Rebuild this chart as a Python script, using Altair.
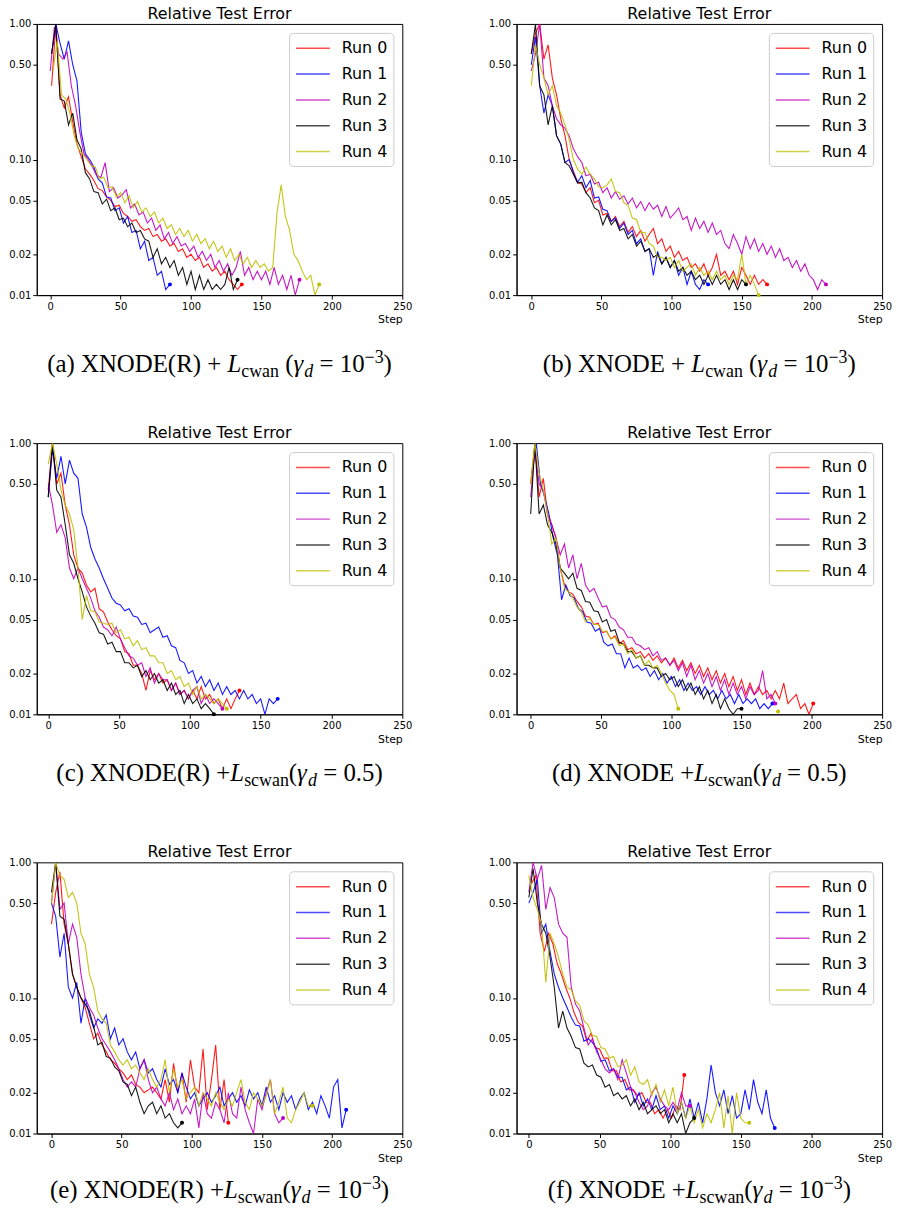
import altair as alt
import pandas as pd

RUNS = ["Run 0", "Run 1", "Run 2", "Run 3", "Run 4"]
COLORS = ["#ff0000", "#0000ff", "#bf00bf", "#000000", "#bfbf00"]
STRIDE = 3
Y_TICKS = [0.01, 0.02, 0.05, 0.10, 0.50, 1.00]
X_TICKS = [0, 50, 100, 150, 200, 250]
TITLE = "Relative Test Error"

# relative test error x1000, one value every 3 steps from the run's first step
A0 = [350,1000,300,240,290,190,130,105,85,78,70,61,59,53,50,45,46,40,38,35,36,32,30,31,27,28,25,26,23,24,21,22,19,20,18,19,16,17,15,16,14,15,13,12,11,12]
A1 = [600,1000,720,550,750,500,380,160,110,100,88,72,67,53,52,42,44,34,38,29,30,22,25,18,19,14,15,11,12]
A2 = [450,950,600,550,620,350,250,160,110,100,88,76,74,95,58,62,52,55,60,44,47,39,41,34,37,30,33,26,29,24,27,23,24,21,23,19,21,18,20,16,18,15,17,14,16,21,14,16,13,15,13,15,12,16,12,14,11,14,10,13]
A3 = [600,1000,280,270,180,220,140,120,80,72,58,57,47,51,42,44,36,37,32,34,29,30,26,25,19,22,17,19,16,18,14,16,12,15,11,14,11,13,11,12,11,12,16,11,13]
A4 = [450,750,300,280,220,150,120,110,100,90,88,72,74,62,63,53,57,48,54,44,49,41,44,38,41,34,37,31,33,28,31,27,30,25,28,24,26,22,25,21,23,19,22,18,20,17,19,16,18,16,17,15,16,40,65,38,30,20,18,15,13,14,10,12]
A_START = [1, 1, 0, 1, 2]

B0 = [600,850,1000,550,700,400,300,200,150,100,82,68,66,57,62,48,50,39,40,35,38,32,35,29,32,27,30,25,28,31,24,26,21,23,19,21,18,19,16,17,15,17,14,16,20,14,15,13,15,12,16,14,12,14,12,13,12]
B1 = [500,800,350,220,300,250,150,130,95,100,80,68,76,62,70,52,53,43,42,35,37,31,34,28,30,24,26,21,22,14,21,17,19,16,18,14,16,12,15,12,11,13,12]
B2 = [450,600,1000,400,350,250,200,180,170,150,120,105,95,76,78,66,68,57,62,52,58,51,54,47,52,44,49,42,48,43,46,38,45,37,40,44,36,38,30,37,31,35,29,34,28,30,24,22,28,24,20,27,22,26,21,24,20,23,19,22,18,19,16,18,15,17,14,13,11,13,12]
B3 = [600,1000,350,300,180,250,150,130,95,90,78,67,68,57,52,44,42,33,39,33,36,30,31,26,28,23,25,21,22,19,20,17,19,16,18,15,16,14,15,13,14,12,14,12,14,12,13,11,13,11,13,12]
B4 = [350,700,500,400,300,350,250,220,180,140,100,85,78,88,78,72,63,62,65,72,58,57,48,46,37,36,29,29,24,23,19,19,18,19,16,18,15,16,17,14,16,14,15,13,15,13,14,12,14,13,20,12,14,12,10]
B_START = [0, 0, 0, 0, 0]

C0 = [450,1000,500,600,350,250,150,120,110,90,80,85,60,57,48,42,38,36,29,28,23,23,20,15,21,18,20,17,18,15,17,14,15,13,15,13,16,13,14,12,13,11,13,11,13,15]
C1 = [400,900,550,800,500,750,600,550,300,240,170,140,120,100,85,72,66,64,58,60,53,52,46,47,40,42,44,37,38,32,31,25,24,20,21,17,19,16,18,15,17,14,16,14,15,13,15,13,14,12,13,10,13,12,13]
C2 = [500,350,220,250,200,120,100,120,100,85,72,58,52,44,42,38,44,36,31,27,26,23,24,19,22,17,20,18,18,15,17,14,15,13,15,16,12,14,12,13,12,11]
C3 = [400,1000,450,400,250,150,130,100,80,62,53,47,40,39,33,34,29,29,24,24,22,23,19,21,18,20,17,18,15,17,14,15,12,14,12,13,11,12,11,10]
C4 = [700,1000,700,450,350,300,230,120,50,75,58,57,48,47,46,47,40,42,36,37,32,35,30,31,27,27,24,24,20,21,18,19,16,17,14,16,13,14,13,12,13,12,11]
C_START = [0, 0, 0, 0, 0]

D0 = [500,1000,400,550,300,250,200,120,90,80,77,68,62,53,52,46,47,40,41,36,38,33,35,30,31,28,29,26,28,25,27,24,26,23,26,22,25,21,24,20,23,19,22,18,21,17,20,16,19,15,18,14,17,14,16,14,15,13,15,13,17,12,13,14,11,12,10,12]
D1 = [600,1000,500,400,300,200,150,70,90,75,72,60,57,48,47,41,43,34,32,33,28,28,22,26,22,23,21,22,19,21,18,20,17,19,16,18,15,17,15,16,14,16,14,15,13,15,13,14,12,14,12,13,12,13,11,12,11,12]
D2 = [400,900,500,450,300,250,200,150,180,120,150,100,130,90,80,85,72,62,63,52,50,44,42,37,37,33,32,30,31,27,29,25,26,23,25,21,24,19,23,18,21,17,20,16,19,15,18,14,17,14,16,13,16,14,15,21,13,14,12]
D3 = [300,1000,300,350,250,220,180,120,110,100,110,85,82,68,67,58,57,48,50,41,42,34,33,29,29,26,27,23,23,22,22,19,20,18,19,16,18,15,17,14,16,13,15,12,14,11,13,11,10,11,11]
D4 = [500,1000,600,450,300,180,200,120,85,80,72,62,57,48,51,46,46,41,41,36,37,32,33,28,30,26,27,23,25,22,23,20,17,15,14,11]
D_START = [0, 1, 0, 0, 0]
D_EXTRA = [("Run 4", 176, 0.0105)]

E0 = [350,600,850,350,250,150,120,100,85,65,50,55,45,40,35,33,30,28,25,27,23,22,20,21,22,20,18,25,17,33,20,28,17,35,22,20,42,15,25,45,15,25,12]
E1 = [500,400,200,300,120,100,130,65,100,75,60,70,65,75,50,60,45,50,40,35,40,30,35,28,30,25,22,30,23,25,20,28,22,18,20,16,18,20,17,19,22,16,18,20,17,19,16,21,18,20,16,22,17,19,15,20,17,19,15,18,20,15,17,14,19,16,13,22,25,11,15]
E2 = [500,1000,450,500,250,350,280,150,100,85,75,60,50,45,40,35,30,25,22,24,22,30,35,25,20,22,18,16,20,15,18,14,16,14,18,11,20,14,13,17,15,12,20,14,13,22,15,12,10,18,15,20,25,14,12,13]
E3 = [600,1000,400,380,250,150,120,100,90,80,62,45,47,37,36,31,29,24,23,19,22,17,14,16,17,14,16,13,14,12,11,12]
E4 = [500,1000,800,750,550,600,500,300,250,150,120,80,70,65,45,40,35,32,35,30,32,28,25,30,25,22,25,35,20,30,22,25,18,20,22,16,20,18,16,20,17,15,18,16,20,25,17,15,20,18,16,19,25,14,17,22,13,12,15,17,20,16,16]
E_START = [0, 0, 0, 0, 0]

F0 = [700,800,300,220,300,250,180,150,120,100,78,66,62,48,55,43,42,36,36,29,29,24,25,21,21,19,20,17,17,14,15,13,15,13,16,15,27]
F1 = [500,600,750,300,350,220,150,120,100,85,72,63,62,48,50,47,42,34,35,29,30,26,26,21,22,17,20,16,18,15,19,15,16,13,16,14,17,13,18,13,17,12,18,32,20,16,21,14,19,13,14,21,15,25,17,14,21,13,11]
F2 = [600,1000,750,950,450,650,550,350,300,280,120,90,80,60,45,50,40,35,30,28,30,25,35,28,22,20,17,15,16,20,22,18,16,15,17,15,20,16,16]
F3 = [550,900,500,350,300,200,120,60,80,60,52,43,42,33,31,32,27,26,22,23,19,20,18,19,16,18,15,17,14,15,16,14,15,12,14,12,14,10,12,13]
F4 = [800,550,450,350,130,300,250,200,150,120,115,95,88,68,63,53,52,43,42,36,37,31,32,35,27,31,24,23,25,19,23,17,21,16,22,14,17,13,16,12,15,11,14,12,15,20,11,19,10,20,13,12,12]
F_START = [2, 0, 0, 0, 0]

CAP_A = [("(a) XNODE(R) + ", "rm"), ("L", "it"), ("cwan", "sub"), (" (", "rm"), ("γ", "it"), ("d", "subit"), (" = 10", "rm"), ("−3", "sup"), (")", "rm")]
CAP_B = [("(b) XNODE + ", "rm"), ("L", "it"), ("cwan", "sub"), (" (", "rm"), ("γ", "it"), ("d", "subit"), (" = 10", "rm"), ("−3", "sup"), (")", "rm")]
CAP_C = [("(c) XNODE(R) +", "rm"), ("L", "it"), ("scwan", "sub"), ("(", "rm"), ("γ", "it"), ("d", "subit"), (" = 0.5)", "rm")]
CAP_D = [("(d) XNODE +", "rm"), ("L", "it"), ("scwan", "sub"), ("(", "rm"), ("γ", "it"), ("d", "subit"), (" = 0.5)", "rm")]
CAP_E = [("(e) XNODE(R) +", "rm"), ("L", "it"), ("scwan", "sub"), ("(", "rm"), ("γ", "it"), ("d", "subit"), (" = 10", "rm"), ("−3", "sup"), (")", "rm")]
CAP_F = [("(f) XNODE +", "rm"), ("L", "it"), ("scwan", "sub"), ("(", "rm"), ("γ", "it"), ("d", "subit"), (" = 10", "rm"), ("−3", "sup"), (")", "rm")]

# ---- layout / style ----
W, H = 368, 273
CAP_FONT = "Liberation Serif"
MAIN_SIZE, SCRIPT_SIZE = 25, 18
ROMAN_W = {" ": 0.25, "(": 0.333, ")": 0.333, "+": 0.564, "=": 0.564, "−": 0.564, ".": 0.25,
           "a": 0.444, "b": 0.5, "c": 0.444, "d": 0.5, "e": 0.444, "f": 0.333, "s": 0.389,
           "w": 0.722, "n": 0.5, "X": 0.722, "N": 0.722, "O": 0.722, "D": 0.722, "E": 0.611, "R": 0.667}
ITAL_W = {"L": 0.556, "γ": 0.44, "d": 0.5}
STYLE = {  # size, italic, baseline shift
    "rm": (MAIN_SIZE, False, 0), "it": (MAIN_SIZE, True, 0),
    "sub": (SCRIPT_SIZE, False, 5), "subit": (SCRIPT_SIZE, True, 5), "sup": (SCRIPT_SIZE, False, -9),
}


def char_w(ch, italic):
    if ch.isdigit():
        return 0.5
    if italic and ch in ITAL_W:
        return ITAL_W[ch]
    return ROMAN_W.get(ch, 0.5)


def caption_layers(pieces, base_y):
    placed = []
    cursor = 0.0
    for text, style in pieces:
        size, italic, shift = STYLE[style]
        lead = (len(text) - len(text.lstrip(" "))) * 0.25 * size
        placed.append((text.strip(" "), cursor + lead, size, italic, shift))
        cursor += sum(char_w(c, italic) for c in text) * size
    x0 = W / 2 - cursor / 2
    out = []
    for t, px, size, italic, shift in placed:
        out.append(
            alt.Chart(pd.DataFrame({"t": [t]}))
            .mark_text(align="left", baseline="alphabetic", font=CAP_FONT, fontSize=size,
                       fontStyle="italic" if italic else "normal", color="black")
            .encode(x=alt.value(x0 + px), y=alt.value(base_y + shift), text="t:N")
        )
    return out


def panel(runs, starts, caption, cap_off, extra=()):
    rows = []
    for name, vals, s in zip(RUNS, runs, starts):
        for i, v in enumerate(vals):
            rows.append({"run": name, "step": s + STRIDE * i, "value": v / 1000})
    df = pd.DataFrame(rows)
    pts = df.groupby("run").tail(1)
    if extra:
        pts = pd.concat([pts, pd.DataFrame([{"run": r, "step": st, "value": v} for r, st, v in extra])])
    xmax = df["step"].max()
    xs = alt.Scale(domain=[-0.05 * xmax, 250], nice=False, zero=False)
    ys = alt.Scale(type="log", domain=[0.01, 1.0], nice=False)
    cs = alt.Scale(domain=RUNS, range=COLORS)
    xa = alt.Axis(values=X_TICKS, format="d", title="Step", titleAnchor="end", titleAlign="right",
                  titleFontSize=11, titleFontWeight="normal", titlePadding=3, labelFlush=False)
    ya = alt.Axis(values=Y_TICKS, format=".2f", title=None)
    leg = alt.Legend(title=None, orient="top-right", offset=9, padding=6, cornerRadius=4,
                     strokeColor="#cccccc", fillColor="white", labelFont="DejaVu Sans",
                     labelFontSize=16, labelColor="black", symbolType="M-1,0H3", symbolSize=289,
                     symbolStrokeWidth=1.5, symbolOpacity=0.7, labelOffset=28, rowPadding=8,
                     labelLimit=200)
    lines = alt.Chart(df).mark_line(clip=True, strokeWidth=1.1, opacity=0.9).encode(
        x=alt.X("step:Q", scale=xs, axis=xa),
        y=alt.Y("value:Q", scale=ys, axis=ya),
        color=alt.Color("run:N", scale=cs, legend=leg),
    )
    dots = alt.Chart(pts).mark_circle(size=16, opacity=1).encode(
        x="step:Q", y="value:Q", color=alt.Color("run:N", scale=cs, legend=None)
    )
    anchor = alt.Chart(pd.DataFrame({"t": ["."]})).mark_text(opacity=0, fontSize=2, baseline="top").encode(
        x=alt.value(W / 2), y=alt.value(H + 86), text="t:N"
    )
    layers = [lines, dots] + caption_layers(caption, H + cap_off) + [anchor]
    return alt.layer(*layers).properties(
        width=W, height=H,
        title=alt.TitleParams(TITLE, fontSize=16, font="DejaVu Sans", fontWeight="normal",
                              anchor="middle", baseline="alphabetic", offset=-16, color="black"),
    )


pa = panel([A0, A1, A2, A3, A4], A_START, CAP_A, 77)
pb = panel([B0, B1, B2, B3, B4], B_START, CAP_B, 77)
pc = panel([C0, C1, C2, C3, C4], C_START, CAP_C, 67)
pd_ = panel([D0, D1, D2, D3, D4], D_START, CAP_D, 67, D_EXTRA)
pe = panel([E0, E1, E2, E3, E4], E_START, CAP_E, 65)
pf = panel([F0, F1, F2, F3, F4], F_START, CAP_F, 65)


def row(a, b):
    return alt.hconcat(a, b, spacing=75).resolve_scale(
        x="independent", y="independent", color="independent").resolve_legend(color="independent")


chart = (
    alt.vconcat(row(pa, pb), row(pc, pd_), row(pe, pf), spacing=41)
    .resolve_scale(x="independent", y="independent", color="independent")
    .resolve_legend(color="independent")
    .properties(padding={"left": 8, "top": 1, "right": 5, "bottom": 0}, background="white")
    .configure_view(stroke="black", strokeWidth=1)
    .configure_axis(labelFont="DejaVu Sans", labelFontSize=10, labelColor="black", tickColor="black",
                    domainColor="black", tickSize=4, labelPadding=2, grid=False, titleFont="DejaVu Sans",
                    titleColor="black", domainWidth=1, tickWidth=1)
)

chart.save("out.html", embed_options={"renderer": "svg", "actions": False})
